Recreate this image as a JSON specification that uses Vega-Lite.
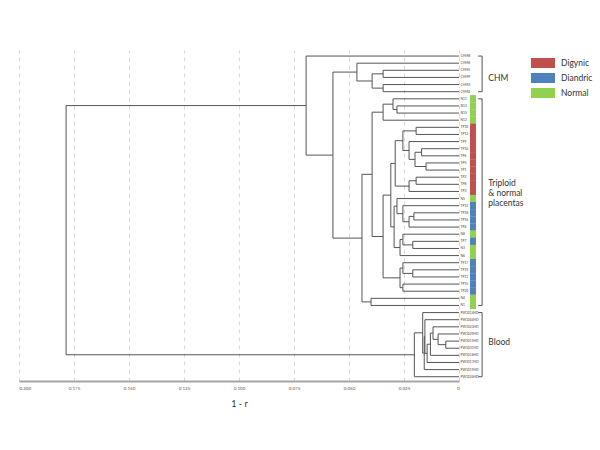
{
  "$schema": "https://vega.github.io/schema/vega-lite/v6.json",
  "width": 440,
  "height": 331,
  "autosize": "none",
  "padding": {"left": 19, "top": 50, "right": 141, "bottom": 69},
  "background": "white",
  "config": {"view": {"stroke": null}, "font": "Lato"},
  "datasets": {
    "nodes": [
      {"node": "E", "h": 0.0345, "y1": 2, "y2": 3, "h1": 0, "h2": 0},
      {"node": "F", "h": 0.0345, "y1": 4, "y2": 5, "h1": 0, "h2": 0},
      {"node": "D", "h": 0.0395, "y1": 2.5, "y2": 4.5, "h1": 0.0345, "h2": 0.0345},
      {"node": "C", "h": 0.0464, "y1": 1, "y2": 3.5, "h1": 0, "h2": 0.0395},
      {"node": "J2", "h": 0.0282, "y1": 7, "y2": 8, "h1": 0, "h2": 0},
      {"node": "J1", "h": 0.030, "y1": 6, "y2": 7.5, "h1": 0, "h2": 0.0282},
      {"node": "J", "h": 0.0345, "y1": 6.75, "y2": 9, "h1": 0.030, "h2": 0},
      {"node": "a", "h": 0.0195, "y1": 10, "y2": 11, "h1": 0, "h2": 0},
      {"node": "b", "h": 0.017, "y1": 13, "y2": 14, "h1": 0, "h2": 0},
      {"node": "c", "h": 0.015, "y1": 15, "y2": 16, "h1": 0, "h2": 0},
      {"node": "d", "h": 0.020, "y1": 13.5, "y2": 15.5, "h1": 0.017, "h2": 0.015},
      {"node": "e", "h": 0.0227, "y1": 12, "y2": 14.5, "h1": 0, "h2": 0.020},
      {"node": "f", "h": 0.0255, "y1": 10.5, "y2": 13.25, "h1": 0.0195, "h2": 0.0227},
      {"node": "g", "h": 0.0195, "y1": 17, "y2": 18, "h1": 0, "h2": 0},
      {"node": "hh", "h": 0.0227, "y1": 17.5, "y2": 19, "h1": 0.0195, "h2": 0},
      {"node": "p", "h": 0.029, "y1": 11.875, "y2": 18.25, "h1": 0.0255, "h2": 0.0227},
      {"node": "q1", "h": 0.0205, "y1": 22, "y2": 23, "h1": 0, "h2": 0},
      {"node": "q2", "h": 0.0227, "y1": 22.5, "y2": 24, "h1": 0.0205, "h2": 0},
      {"node": "q", "h": 0.0255, "y1": 21, "y2": 23.25, "h1": 0, "h2": 0.0227},
      {"node": "r", "h": 0.0282, "y1": 20, "y2": 22.125, "h1": 0, "h2": 0.0255},
      {"node": "s", "h": 0.021, "y1": 26, "y2": 27, "h1": 0, "h2": 0},
      {"node": "t", "h": 0.0255, "y1": 25, "y2": 26.5, "h1": 0, "h2": 0.021},
      {"node": "u", "h": 0.0268, "y1": 25.75, "y2": 28, "h1": 0.0255, "h2": 0},
      {"node": "v", "h": 0.0295, "y1": 21.0625, "y2": 26.875, "h1": 0.0282, "h2": 0.0268},
      {"node": "M", "h": 0.031, "y1": 15.0625, "y2": 23.96875, "h1": 0.029, "h2": 0.0295},
      {"node": "x1", "h": 0.021, "y1": 30, "y2": 31, "h1": 0, "h2": 0},
      {"node": "w1", "h": 0.0255, "y1": 29, "y2": 30.5, "h1": 0, "h2": 0.021},
      {"node": "w2", "h": 0.0255, "y1": 32, "y2": 33, "h1": 0, "h2": 0},
      {"node": "w", "h": 0.0268, "y1": 29.75, "y2": 32.5, "h1": 0.0255, "h2": 0.0255},
      {"node": "K", "h": 0.0345, "y1": 19.515625, "y2": 31.125, "h1": 0.031, "h2": 0.0268},
      {"node": "H", "h": 0.0395, "y1": 7.875, "y2": 25.3203, "h1": 0.0345, "h2": 0.0345},
      {"node": "I", "h": 0.040, "y1": 34, "y2": 35, "h1": 0, "h2": 0},
      {"node": "G", "h": 0.0441, "y1": 16.5977, "y2": 34.5, "h1": 0.0395, "h2": 0.040},
      {"node": "B", "h": 0.0573, "y1": 2.25, "y2": 25.5488, "h1": 0.0464, "h2": 0.0441},
      {"node": "A", "h": 0.0695, "y1": 0, "y2": 13.8994, "h1": 0, "h2": 0.0573},
      {"node": "n1", "h": 0.006, "y1": 40, "y2": 41, "h1": 0, "h2": 0},
      {"node": "n2", "h": 0.0095, "y1": 39, "y2": 40.5, "h1": 0, "h2": 0.006},
      {"node": "n3", "h": 0.0118, "y1": 38, "y2": 39.75, "h1": 0, "h2": 0.0095},
      {"node": "n4", "h": 0.013, "y1": 38.875, "y2": 42, "h1": 0.0118, "h2": 0},
      {"node": "n5", "h": 0.0145, "y1": 40.4375, "y2": 43, "h1": 0.013, "h2": 0},
      {"node": "n6", "h": 0.0155, "y1": 37, "y2": 41.71875, "h1": 0, "h2": 0.0145},
      {"node": "n7", "h": 0.0158, "y1": 39.359, "y2": 44, "h1": 0.0155, "h2": 0},
      {"node": "Y", "h": 0.0165, "y1": 36, "y2": 41.68, "h1": 0, "h2": 0.0158},
      {"node": "Z", "h": 0.0203, "y1": 38.84, "y2": 45, "h1": 0.0165, "h2": 0},
      {"node": "R", "h": 0.1786, "y1": 6.9497, "y2": 41.92, "h1": 0.0695, "h2": 0.0203}
    ],
    "leaves": [
      {"leaf": "CHM8", "pos": 0}, {"leaf": "CHM6", "pos": 1}, {"leaf": "CHM5", "pos": 2},
      {"leaf": "CHM9", "pos": 3}, {"leaf": "CHM3", "pos": 4}, {"leaf": "CHM4", "pos": 5},
      {"leaf": "N11", "pos": 6, "type": "Normal"}, {"leaf": "N13", "pos": 7, "type": "Normal"},
      {"leaf": "N15", "pos": 8, "type": "Normal"}, {"leaf": "N12", "pos": 9, "type": "Normal"},
      {"leaf": "TP10", "pos": 10, "type": "Digynic"}, {"leaf": "TP12", "pos": 11, "type": "Digynic"},
      {"leaf": "TP9", "pos": 12, "type": "Digynic"}, {"leaf": "TP14", "pos": 13, "type": "Digynic"},
      {"leaf": "TP6", "pos": 14, "type": "Digynic"}, {"leaf": "TP5", "pos": 15, "type": "Digynic"},
      {"leaf": "TP1", "pos": 16, "type": "Digynic"}, {"leaf": "TP2", "pos": 17, "type": "Digynic"},
      {"leaf": "TP8", "pos": 18, "type": "Digynic"}, {"leaf": "TP3", "pos": 19, "type": "Digynic"},
      {"leaf": "N5", "pos": 20, "type": "Normal"},
      {"leaf": "TP13", "pos": 21, "type": "Diandric"}, {"leaf": "TP18", "pos": 22, "type": "Diandric"},
      {"leaf": "TP16", "pos": 23, "type": "Diandric"}, {"leaf": "TP4", "pos": 24, "type": "Diandric"},
      {"leaf": "N8", "pos": 25, "type": "Normal"},
      {"leaf": "TP7", "pos": 26, "type": "Diandric"},
      {"leaf": "N3", "pos": 27, "type": "Normal"}, {"leaf": "N6", "pos": 28, "type": "Normal"},
      {"leaf": "TP17", "pos": 29, "type": "Diandric"}, {"leaf": "TP19", "pos": 30, "type": "Diandric"},
      {"leaf": "TP11", "pos": 31, "type": "Diandric"}, {"leaf": "TP15", "pos": 32, "type": "Diandric"},
      {"leaf": "TP20", "pos": 33, "type": "Diandric"},
      {"leaf": "N4", "pos": 34, "type": "Normal"}, {"leaf": "N1", "pos": 35, "type": "Normal"},
      {"leaf": "PW1014HD", "pos": 36}, {"leaf": "PW1044HD", "pos": 37}, {"leaf": "PW1023HD", "pos": 38},
      {"leaf": "PW1029HD", "pos": 39}, {"leaf": "PW1015HD", "pos": 40}, {"leaf": "PW1031HD", "pos": 41},
      {"leaf": "PW1016HD", "pos": 42}, {"leaf": "PW1017HD", "pos": 43}, {"leaf": "PW1019HD", "pos": 44},
      {"leaf": "PW1024HD", "pos": 45}
    ],
    "groups": [
      {"group": "CHM", "first": 0, "last": 5},
      {"group": "Triploid & normal placentas", "first": 6, "last": 35},
      {"group": "Blood", "first": 36, "last": 45}
    ]
  },
  "layer": [
    {
      "data": {"name": "nodes"},
      "mark": {"type": "rule", "color": "#555555", "strokeWidth": 1},
      "encoding": {
        "x": {
          "field": "h", "type": "quantitative",
          "scale": {"domain": [0, 0.2], "reverse": true, "nice": false, "zero": false},
          "axis": {
            "values": [0, 0.025, 0.05, 0.075, 0.1, 0.125, 0.15, 0.175, 0.2],
            "labelExpr": "datum.value == 0 ? '0' : format(datum.value, '.3f')",
            "grid": true, "gridDash": [4, 4], "gridColor": "#d9d9d9", "gridWidth": 1,
            "ticks": false, "domainColor": "#a6a6a6", "domainWidth": 2,
            "labelFontSize": 4.5, "labelColor": "#555555", "labelPadding": 4,
            "title": "1 - r", "titleFontSize": 9, "titleFontWeight": "normal",
            "titleColor": "#333333", "titlePadding": 10
          }
        },
        "y": {
          "field": "y1", "type": "quantitative",
          "scale": {"domain": [-0.85, 45.6], "reverse": true, "nice": false, "zero": false},
          "axis": null
        },
        "y2": {"field": "y2"}
      }
    },
    {
      "data": {"name": "nodes"},
      "mark": {"type": "rule", "color": "#555555", "strokeWidth": 1},
      "encoding": {
        "x": {"field": "h1", "type": "quantitative"},
        "x2": {"field": "h"},
        "y": {"field": "y1", "type": "quantitative"}
      }
    },
    {
      "data": {"name": "nodes"},
      "mark": {"type": "rule", "color": "#555555", "strokeWidth": 1},
      "encoding": {
        "x": {"field": "h2", "type": "quantitative"},
        "x2": {"field": "h"},
        "y": {"field": "y2", "type": "quantitative"}
      }
    },
    {
      "data": {"name": "leaves"},
      "mark": {"type": "text", "align": "left", "baseline": "middle", "dx": 1.5, "fontSize": 3.3, "color": "#444444"},
      "encoding": {
        "x": {"datum": 0, "type": "quantitative"},
        "y": {"field": "pos", "type": "quantitative"},
        "text": {"field": "leaf"}
      }
    },
    {
      "data": {"name": "leaves"},
      "transform": [{"filter": "isValid(datum.type)"}],
      "mark": {"type": "tick", "orient": "horizontal", "size": 6, "thickness": 7.4, "opacity": 1},
      "encoding": {
        "x": {"datum": -0.00635, "type": "quantitative"},
        "y": {"field": "pos", "type": "quantitative"},
        "color": {
          "field": "type", "type": "nominal",
          "scale": {"domain": ["Digynic", "Diandric", "Normal"], "range": ["#C0504D", "#4F81BD", "#92D050"]},
          "legend": {
            "orient": "none", "legendX": 514, "legendY": 3, "title": null, "padding": 0,
            "symbolType": "M-1.2,-0.5H1.2V0.5H-1.2Z", "symbolSize": 400, "symbolStrokeWidth": 0,
            "symbolOpacity": 1, "labelOffset": 8, "labelFontSize": 8.5, "labelColor": "#333333",
            "rowPadding": 0
          }
        }
      }
    },
    {
      "data": {"name": "groups"},
      "mark": {"type": "rule", "color": "#555555", "strokeWidth": 1},
      "encoding": {
        "x": {"datum": -0.0105, "type": "quantitative"},
        "y": {"field": "first", "type": "quantitative"},
        "y2": {"field": "last"}
      }
    },
    {
      "data": {"name": "groups"},
      "mark": {"type": "rule", "color": "#555555", "strokeWidth": 1},
      "encoding": {
        "x": {"datum": -0.0087, "type": "quantitative"},
        "x2": {"datum": -0.0105},
        "y": {"field": "first", "type": "quantitative"}
      }
    },
    {
      "data": {"name": "groups"},
      "mark": {"type": "rule", "color": "#555555", "strokeWidth": 1},
      "encoding": {
        "x": {"datum": -0.0087, "type": "quantitative"},
        "x2": {"datum": -0.0105},
        "y": {"field": "last", "type": "quantitative"}
      }
    },
    {
      "data": {"values": [{"label": "CHM"}]},
      "mark": {"type": "text", "align": "left", "baseline": "middle", "fontSize": 8.5, "color": "#333333"},
      "encoding": {
        "x": {"datum": -0.0133, "type": "quantitative"},
        "y": {"datum": 3.1, "type": "quantitative"},
        "text": {"field": "label"}
      }
    },
    {
      "data": {"values": [{"label": "Triploid\n& normal\nplacentas"}]},
      "mark": {"type": "text", "align": "left", "baseline": "middle", "fontSize": 8.5, "lineHeight": 10, "lineBreak": "\n", "color": "#333333"},
      "encoding": {
        "x": {"datum": -0.0133, "type": "quantitative"},
        "y": {"datum": 17.8, "type": "quantitative"},
        "text": {"field": "label"}
      }
    },
    {
      "data": {"values": [{"label": "Blood"}]},
      "mark": {"type": "text", "align": "left", "baseline": "middle", "fontSize": 8.5, "color": "#333333"},
      "encoding": {
        "x": {"datum": -0.0133, "type": "quantitative"},
        "y": {"datum": 40.1, "type": "quantitative"},
        "text": {"field": "label"}
      }
    }
  ]
}
